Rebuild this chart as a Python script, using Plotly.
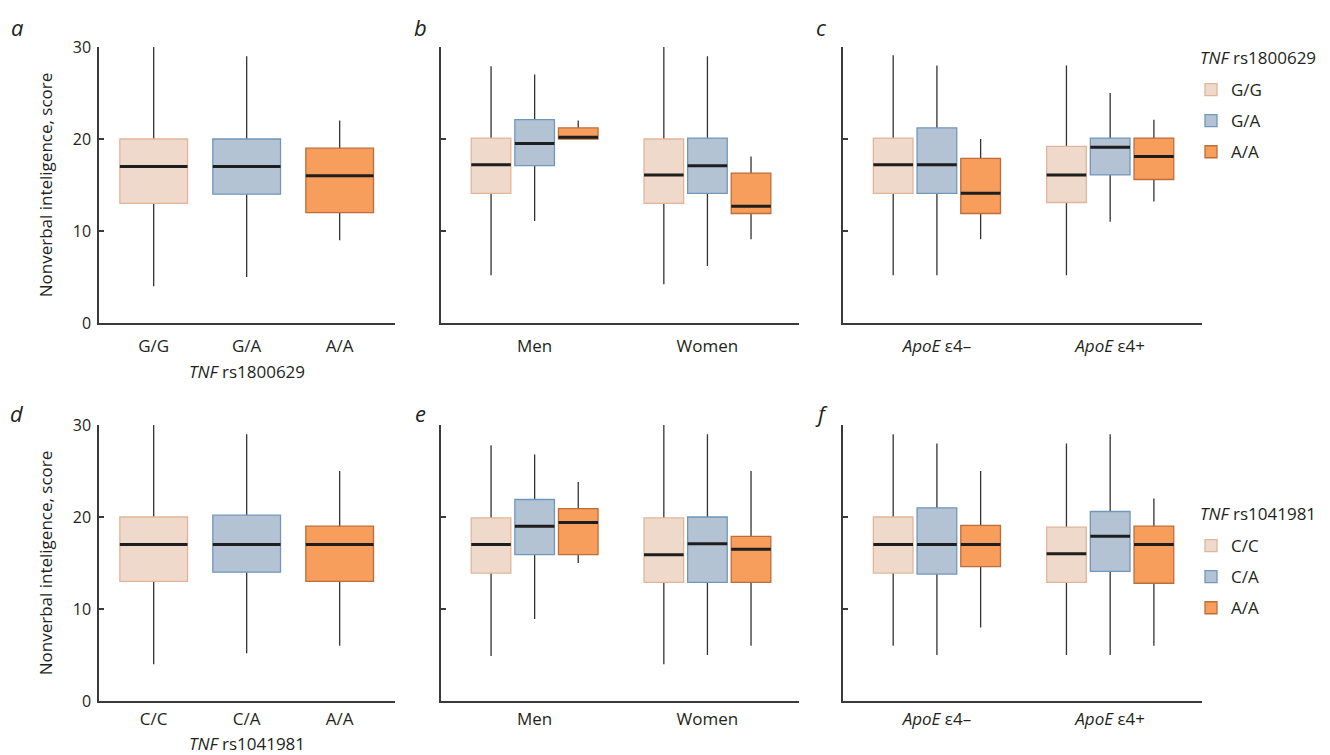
import plotly.graph_objects as go

FONT = "Open Sans"
TXT = "#231f20"
AXC = "#3a3a3a"

# ---------------- categories / labels ----------------
tnf1_labels = ["G/G", "G/A", "A/A"]
tnf2_labels = ["C/C", "C/A", "A/A"]
sex_labels = ["Men", "Women"]
apoe_labels = ["<i>ApoE</i> ε4–", "<i>ApoE</i> ε4+"]
panel_letters = ["a", "b", "c", "d", "e", "f"]
legend_titles = ["<i>TNF</i> rs1800629", "<i>TNF</i> rs1041981"]
y_title = "Nonverbal inteligence, score"

# ---------------- data (box statistics) ----------------
# Panel a: TNF rs1800629, whole sample, order G/G, G/A, A/A
a_low = [4, 5, 9]
a_q1 = [13, 14, 12]
a_med = [17, 17, 16]
a_q3 = [20, 20, 19]
a_high = [30, 29, 22]

# Panel b: TNF rs1800629 by sex; rows = genotype, columns = [Men, Women]
b_low = [[5.2, 4.2], [11.1, 6.2], [20.0, 9.1]]
b_q1 = [[14.1, 13.0], [17.1, 14.1], [20.0, 11.9]]
b_med = [[17.2, 16.1], [19.5, 17.1], [20.2, 12.7]]
b_q3 = [[20.1, 20.0], [22.1, 20.1], [21.2, 16.3]]
b_high = [[27.9, 30.0], [27.0, 29.0], [22.0, 18.1]]

# Panel c: TNF rs1800629 by ApoE; columns = [e4-, e4+]
c_low = [[5.2, 5.2], [5.2, 11.0], [9.1, 13.2]]
c_q1 = [[14.1, 13.1], [14.1, 16.1], [11.9, 15.6]]
c_med = [[17.2, 16.1], [17.2, 19.1], [14.1, 18.1]]
c_q3 = [[20.1, 19.2], [21.2, 20.1], [17.9, 20.1]]
c_high = [[29.1, 28.0], [28.0, 25.0], [20.0, 22.1]]

# Panel d: TNF rs1041981, whole sample, order C/C, C/A, A/A
d_low = [4, 5.2, 6]
d_q1 = [13, 14, 13]
d_med = [17, 17, 17]
d_q3 = [20, 20.2, 19]
d_high = [30, 29, 25]

# Panel e: TNF rs1041981 by sex
e_low = [[4.9, 4.0], [8.9, 5.0], [15.0, 6.0]]
e_q1 = [[13.9, 12.9], [15.9, 12.9], [15.9, 12.9]]
e_med = [[17.0, 15.9], [19.0, 17.1], [19.4, 16.5]]
e_q3 = [[19.9, 19.9], [21.9, 20.0], [20.9, 17.9]]
e_high = [[27.8, 30.0], [26.8, 29.0], [23.8, 25.0]]

# Panel f: TNF rs1041981 by ApoE
f_low = [[6.0, 5.0], [5.0, 5.0], [8.0, 6.0]]
f_q1 = [[13.9, 12.9], [13.8, 14.1], [14.6, 12.8]]
f_med = [[17.0, 16.0], [17.0, 17.9], [17.0, 17.0]]
f_q3 = [[20.0, 18.9], [21.0, 20.6], [19.1, 19.0]]
f_high = [[29.0, 28.0], [28.0, 29.0], [25.0, 22.0]]

# ---------------- styles ----------------
fills = ["#eed9cb", "#b4c3d3", "#f79e5c"]
borders = ["#e2b59b", "#6f97bb", "#bd6d3a"]
WHISK = "#333333"
MED = "#1e1e1e"

fig = go.Figure()


def as_list(v):
    return v if isinstance(v, list) else [v]


def add_panel(idx, cats, low, q1, med, q3, high, labels, legend_name):
    ax = "" if idx == 1 else str(idx)
    single = not isinstance(low[0], list)
    for gi in range(3):
        if single:
            x = [cats[gi]]
            extra = dict(width=0.728)
        else:
            x = cats
            extra = dict(offsetgroup=f"p{idx}g{gi}", alignmentgroup=f"p{idx}")
        lo, a1, m, a3, hi = (as_list(v[gi]) for v in (low, q1, med, q3, high))
        common = dict(x=x, xaxis="x" + ax, yaxis="y" + ax, orientation="v",
                      boxpoints=False, whiskerwidth=0, hoverinfo="skip", **extra)
        # whiskers (collapsed box at median, whiskers to fences)
        fig.add_trace(go.Box(q1=m, median=m, q3=m, lowerfence=lo, upperfence=hi,
                             line=dict(color=WHISK, width=1.3),
                             fillcolor="rgba(0,0,0,0)", showlegend=False, **common))
        # coloured interquartile box
        show = legend_name is not None
        fig.add_trace(go.Box(q1=a1, median=m, q3=a3, lowerfence=a1, upperfence=a3,
                             line=dict(color=borders[gi], width=1.3),
                             fillcolor=fills[gi], name=labels[gi],
                             showlegend=show, legend=legend_name or "legend",
                             legendgroup=f"{legend_name}-{gi}", **common))
        # thick black median
        fig.add_trace(go.Box(q1=m, median=m, q3=m, lowerfence=m, upperfence=m,
                             line=dict(color=MED, width=3),
                             fillcolor="rgba(0,0,0,0)", showlegend=False, **common))


add_panel(1, tnf1_labels, a_low, a_q1, a_med, a_q3, a_high, tnf1_labels, "legend")
add_panel(2, sex_labels, b_low, b_q1, b_med, b_q3, b_high, tnf1_labels, None)
add_panel(3, apoe_labels, c_low, c_q1, c_med, c_q3, c_high, tnf1_labels, None)
add_panel(4, tnf2_labels, d_low, d_q1, d_med, d_q3, d_high, tnf2_labels, "legend2")
add_panel(5, sex_labels, e_low, e_q1, e_med, e_q3, e_high, tnf2_labels, None)
add_panel(6, apoe_labels, f_low, f_q1, f_med, f_q3, f_high, tnf2_labels, None)

W, H = 1330, 755
xdom_px = [(99, 395), (441, 799), (843, 1202)]
ydom_px = [(47, 323), (425, 701)]
tick_standoff = [7, 2]
title_standoff = [10, 23]

layout = dict(
    width=W, height=H,
    margin=dict(l=0, r=0, t=0, b=0),
    paper_bgcolor="white", plot_bgcolor="white",
    font=dict(family=FONT, size=16, color=TXT),
    boxmode="group", boxgap=0.243, boxgroupgap=0.092,
    showlegend=True,
)

for i in range(6):
    idx = i + 1
    ax = "" if idx == 1 else str(idx)
    r, c = divmod(i, 3)
    x0, x1 = xdom_px[c]
    y0, y1 = ydom_px[r]
    first = c == 0
    xrange = [-0.588, 2.595] if first else [-0.542, 1.53]
    xa = dict(domain=[x0 / W, x1 / W], anchor="y" + ax, type="category",
              range=xrange, showline=True, linecolor=AXC, linewidth=1.5,
              ticks="", showgrid=False, zeroline=False, automargin=False,
              ticklabelstandoff=tick_standoff[r], tickfont=dict(size=17, color=TXT))
    ya = dict(domain=[1 - y1 / H, 1 - y0 / H], anchor="x" + ax, range=[0, 30],
              tickvals=[0, 10, 20, 30], ticks="inside", ticklen=5, tickwidth=1.5,
              tickcolor=AXC, showline=True, linecolor=AXC, linewidth=1.5,
              showgrid=False, zeroline=False, automargin=False,
              ticklabelstandoff=3,
              showticklabels=first, tickfont=dict(size=16, color=TXT))
    if first:
        xa["title"] = dict(text=legend_titles[r], font=dict(size=17, color=TXT),
                           standoff=title_standoff[r])
        ya["title"] = dict(text=y_title, font=dict(size=17, color=TXT), standoff=16)
    layout["xaxis" + ax] = xa
    layout["yaxis" + ax] = ya

legend_common = dict(
    xanchor="left", yanchor="top", traceorder="grouped", tracegroupgap=6,
    bgcolor="rgba(0,0,0,0)", font=dict(size=17, color=TXT),
)
layout["legend"] = dict(x=1191 / W, y=1 - 72 / H, **legend_common)
layout["legend2"] = dict(x=1191 / W, y=1 - 528 / H, **legend_common)

annotations = []
letter_pos = [(17, 27), (420, 27), (822, 27), (17, 413), (420, 413), (822, 413)]
for letter, (px, py) in zip(panel_letters, letter_pos):
    annotations.append(dict(text=f"<i>{letter}</i>", x=px / W, y=1 - py / H,
                            xref="paper", yref="paper", showarrow=False,
                            xanchor="center", yanchor="middle",
                            font=dict(size=22, color=TXT)))
# legend titles
for text, py in zip(legend_titles, (57, 513)):
    annotations.append(dict(text=text, x=1198 / W, y=1 - py / H,
                            xref="paper", yref="paper", showarrow=False,
                            xanchor="left", yanchor="middle",
                            font=dict(size=17, color=TXT)))
layout["annotations"] = annotations

fig.update_layout(**layout)
fig.write_html("out.html", config={"displayModeBar": False},
               post_script="document.body.style.margin='0';")
